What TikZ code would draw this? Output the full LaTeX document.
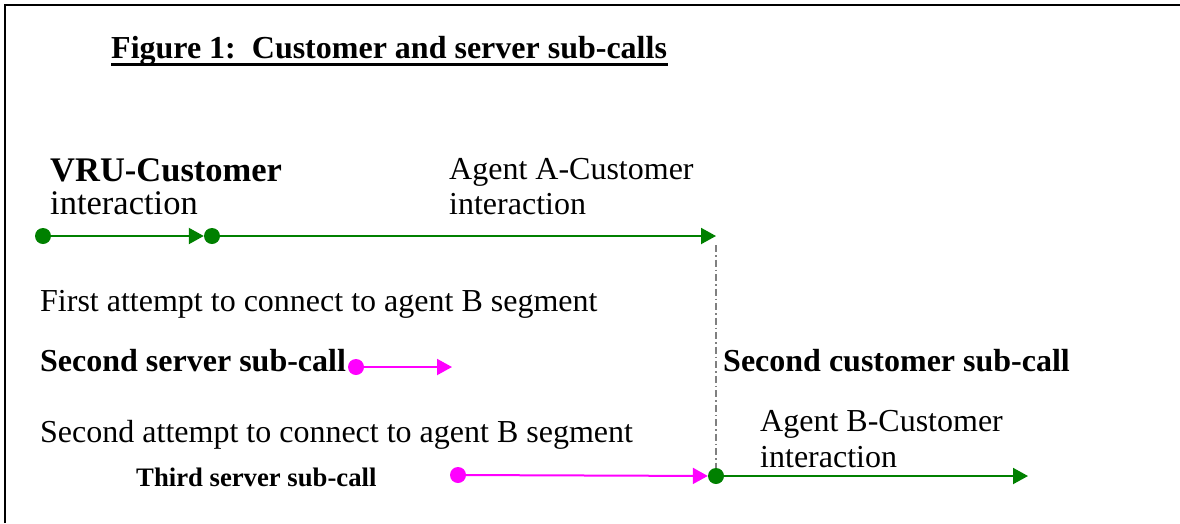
\documentclass[tikz,border=0pt]{standalone}
\usepackage{fontspec}
\setmainfont{Liberation Serif}
\usetikzlibrary{arrows.meta}
\definecolor{mygreen}{HTML}{008000}
\definecolor{mymag}{HTML}{FF00FF}
\definecolor{mygray}{HTML}{808080}
\begin{document}
\begin{tikzpicture}[x=1pt,y=-1pt,
  txt/.style={anchor=base west,inner sep=0pt,font=\fontsize{32}{36}\selectfont},
  btxt/.style={txt,font=\fontsize{32}{36}\selectfont\bfseries},
  ltxt/.style={anchor=base west,inner sep=0pt,font=\fontsize{34.5}{38}\selectfont},
  lbtxt/.style={anchor=base west,inner sep=0pt,font=\fontsize{34.5}{38}\selectfont\bfseries},
  stxt/.style={anchor=base west,inner sep=0pt,font=\fontsize{26.7}{30}\selectfont\bfseries},
  gdot/.style={circle,fill=mygreen,inner sep=0pt,minimum size=16pt},
  mdot/.style={circle,fill=mymag,inner sep=0pt,minimum size=16pt},
  garrow/.style={draw=mygreen,line width=2pt,-{Triangle[length=15pt,width=16pt]}},
  marrow/.style={draw=mymag,line width=2pt,-{Triangle[length=15pt,width=16pt]}},
  dashdot/.style={draw=mygray,line width=1.5pt,dash pattern=on 7pt off 3pt on 1.5pt off 3pt}]
\useasboundingbox (0,0) rectangle (1180,523);
% frame
\draw[line width=2pt] (5,523) -- (5,5) -- (1180,5);
% title
\node[btxt] (title) at (111,58) {Figure 1:\ \ Customer and server sub-calls};
\draw[line width=2.5pt] (title.base west) ++(0,6.5) -- ++(557,0);
% labels
\node[lbtxt] (vru) at (50,181) {VRU-Customer};
\node[ltxt] (vrui) at (50,214) {interaction};
\node[txt] (aa) at (449,179) {Agent A-Customer};
\node[txt] (aai) at (449,214) {interaction};
\node[txt] (first) at (40,311) {First attempt to connect to agent B segment};
\node[btxt] (ssc) at (40,371) {Second server sub-call};
\node[btxt] (scs) at (723,371) {Second customer sub-call};
\node[txt] (second) at (40,442) {Second attempt to connect to agent B segment};
\node[txt] (ab) at (760,431) {Agent B-Customer};
\node[txt] (abi) at (760,467) {interaction};
\node[stxt] (tsc) at (136,486) {Third server sub-call};
% dots and coordinates
\node[gdot] (g1) at (43,236) {};
\node[gdot] (g2) at (212,236) {};
\coordinate (g2e) at (716,236);
\node[mdot] (m1) at (356,367) {};
\coordinate (m1e) at (452,367);
\node[mdot] (m2) at (458,475) {};
\node[gdot] (g3) at (716,476) {};
\coordinate (g3e) at (1028,476);
\coordinate (v1) at (716,245);
\coordinate (v2) at (716,468);
% connectors
\draw[dashdot] (v1) -- (v2);
\draw[garrow] (g1) -- (g2);
\draw[garrow] (g2) -- (g2e);
\draw[marrow] (m1) -- (m1e);
\draw[marrow] (m2) -- (g3);
\draw[garrow] (g3) -- (g3e);
\end{tikzpicture}
\end{document}
